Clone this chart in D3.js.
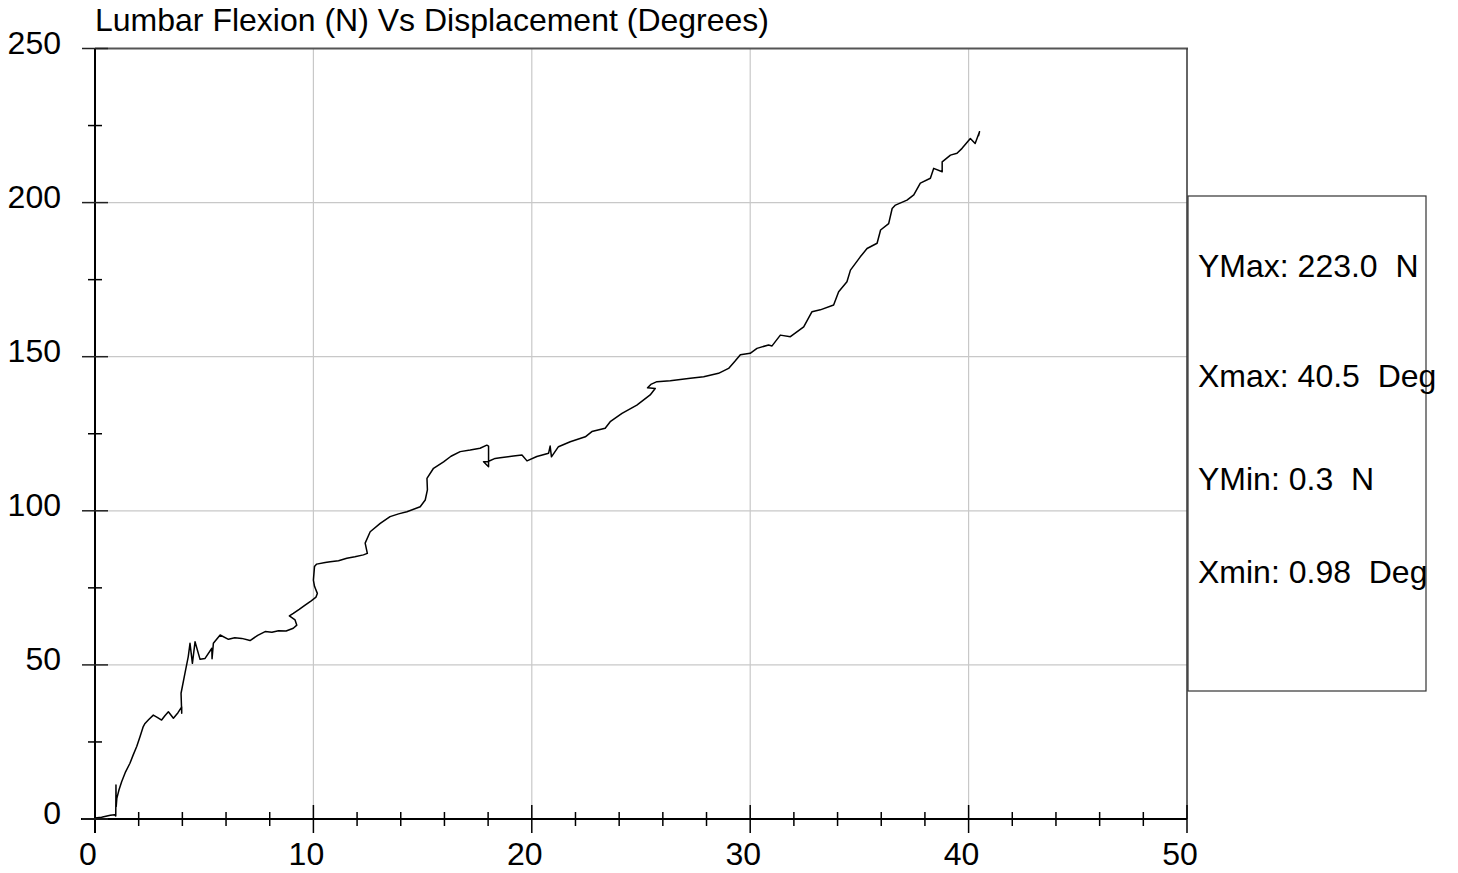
<!DOCTYPE html>
<html>
<head>
<meta charset="utf-8">
<script src="https://cdn.jsdelivr.net/npm/d3@7"></script>
<style>
  html, body { margin: 0; padding: 0; background: #fff; }
  svg { display: block; font-family: "Liberation Sans", Arial, sans-serif; }
</style>
</head>
<body>
<svg id="chart" width="1458" height="873"></svg>
<script>
// Lumbar flexion force (N) against angular displacement (degrees)
const displacement = [
  0.00, 0.30, 0.50, 0.70, 0.90, 0.95, 0.96, 0.97, 1.00, 1.10, 1.22, 1.40, 1.60, 1.75, 1.91,
  2.06, 2.21, 2.29, 2.45, 2.67, 2.85, 3.05, 3.20, 3.36, 3.59, 3.80, 3.97, 3.97, 3.94, 4.12,
  4.27, 4.35, 4.46, 4.58, 4.81, 5.04, 5.35, 5.36, 5.42, 5.73, 6.11, 6.40, 6.72, 7.10, 7.45,
  7.79, 8.10, 8.40, 8.75, 9.08, 9.24, 9.16, 8.90, 9.08, 9.35, 9.62, 9.90, 10.12, 10.18, 10.05,
  10.00, 10.05, 10.15, 10.54, 10.77, 11.15, 11.53, 11.90, 12.29, 12.47, 12.37, 12.60, 13.06, 13.51, 13.90,
  14.28, 14.89, 15.12, 15.22, 15.20, 15.50, 15.96, 16.30, 16.72, 17.18, 17.63, 17.94, 18.02, 18.02, 17.79,
  18.00, 18.32, 18.55, 19.16, 19.55, 19.78, 20.23, 20.77, 20.84, 20.90, 21.22, 21.76, 22.45, 22.75, 23.36,
  23.59, 24.13, 24.81, 25.42, 25.65, 25.30, 25.45, 25.73, 26.34, 27.26, 27.87, 28.55, 29.01, 29.30, 29.55,
  30.00, 30.31, 30.84, 31.00, 31.38, 31.84, 32.45, 32.83, 33.21, 33.82, 34.05, 34.43, 34.59, 35.04, 35.35,
  35.81, 35.97, 36.34, 36.50, 36.65, 37.18, 37.49, 37.79, 38.25, 38.40, 38.79, 38.79, 39.17, 39.47, 39.70,
  40.08, 40.30, 40.50, 40.45
];
const force = [
  0.3, 0.6, 0.9, 1.2, 1.4, 1.0, 11.0, 4.0, 6.7, 9.5, 12.1, 15.3, 18.1, 20.8, 23.5,
  26.7, 30.0, 31.0, 32.2, 33.7, 33.0, 32.1, 33.5, 34.8, 32.7, 34.5, 36.4, 34.3, 40.8, 47.3,
  52.7, 57.0, 50.5, 57.5, 51.8, 52.1, 55.4, 52.0, 57.0, 59.7, 58.3, 58.8, 58.6, 57.9, 59.6,
  60.8, 60.6, 61.1, 61.0, 61.9, 62.9, 64.6, 65.9, 66.7, 68.0, 69.4, 70.8, 72.0, 73.2, 75.5,
  77.5, 81.9, 82.7, 83.2, 83.5, 83.8, 84.6, 85.1, 85.7, 86.2, 89.5, 93.2, 95.9, 98.1, 99.0,
  99.7, 101.3, 103.5, 106.8, 110.5, 113.8, 115.9, 117.7, 119.2, 119.7, 120.3, 121.3, 121.0, 114.3, 115.9,
  116.0, 117.0, 117.2, 117.8, 118.1, 116.2, 117.6, 118.7, 121.0, 117.5, 120.8, 122.4, 124.0, 125.7, 126.8,
  128.9, 131.6, 134.3, 137.6, 139.7, 139.9, 141.0, 141.9, 142.2, 143.0, 143.5, 144.6, 146.2, 148.5, 150.6,
  151.1, 152.7, 153.8, 153.5, 157.0, 156.5, 159.7, 164.6, 165.2, 166.8, 171.1, 174.3, 178.1, 182.4, 185.1,
  186.8, 191.1, 193.2, 198.1, 199.2, 200.8, 202.5, 206.3, 207.9, 211.1, 210.0, 213.2, 215.4, 216.0, 217.6,
  220.8, 219.2, 223.0, 221.6
];

const xTickValues = [0, 10, 20, 30, 40, 50];
const xMinorValues = [2, 4, 6, 8, 12, 14, 16, 18, 22, 24, 26, 28, 32, 34, 36, 38, 42, 44, 46, 48];
const yTickValues = [0, 50, 100, 150, 200, 250];
const yMinorValues = [25, 75, 125, 175, 225];

const titleText = "Lumbar Flexion (N) Vs Displacement (Degrees)";
const statLabels = ["YMax: 223.0  N", "Xmax: 40.5  Deg", "YMin: 0.3  N", "Xmin: 0.98  Deg"];

const svg = d3.select("#chart");
const x = d3.scaleLinear().domain([0, 50]).range([95, 1187]);
const y = d3.scaleLinear().domain([0, 250]).range([819, 48.5]);

// grid
const grid = svg.append("g");
grid.selectAll(".vg").data(xTickValues.filter(v => v > 0 && v < 50)).join("line")
  .attr("x1", d => x(d)).attr("x2", d => x(d))
  .attr("y1", y(250)).attr("y2", y(0))
  .attr("stroke", "#c8c8c8").attr("stroke-width", 1.2);
grid.selectAll(".hg").data(yTickValues.filter(v => v > 0 && v < 250)).join("line")
  .attr("x1", x(0)).attr("x2", x(50))
  .attr("y1", d => y(d)).attr("y2", d => y(d))
  .attr("stroke", "#c8c8c8").attr("stroke-width", 1.2);

// frame: top and right
svg.append("line").attr("x1", x(0)).attr("x2", x(50) + 1).attr("y1", y(250)).attr("y2", y(250))
  .attr("stroke", "#555").attr("stroke-width", 2);
svg.append("line").attr("x1", x(50)).attr("x2", x(50)).attr("y1", y(250)).attr("y2", y(0))
  .attr("stroke", "#333").attr("stroke-width", 1.5);

// curve
const pts = displacement.map((d, i) => [d, force[i]]);
svg.append("path").datum(pts)
  .attr("d", d3.line().x(d => x(d[0])).y(d => y(d[1])))
  .attr("fill", "none").attr("stroke", "#000").attr("stroke-width", 1.5)
  .attr("stroke-linejoin", "round");

// x axis
const xAxisG = svg.append("g");
xAxisG.append("line").attr("x1", 81).attr("x2", x(50)).attr("y1", y(0)).attr("y2", y(0))
  .attr("stroke", "#000").attr("stroke-width", 2);
xAxisG.selectAll(".xmaj").data(xTickValues).join("line")
  .attr("x1", d => x(d)).attr("x2", d => x(d)).attr("y1", y(0) - 14).attr("y2", y(0) + 14)
  .attr("stroke", "#000").attr("stroke-width", 1.5);
xAxisG.selectAll(".xmin").data(xMinorValues).join("line")
  .attr("x1", d => x(d)).attr("x2", d => x(d)).attr("y1", y(0) - 7).attr("y2", y(0) + 7)
  .attr("stroke", "#000").attr("stroke-width", 1.5);
xAxisG.selectAll(".xlab").data(xTickValues).join("text")
  .attr("x", d => x(d) - 7).attr("y", 865)
  .attr("text-anchor", "middle").attr("font-size", 32).attr("fill", "#000")
  .text(d => d);

// y axis
const yAxisG = svg.append("g");
yAxisG.append("line").attr("x1", x(0)).attr("x2", x(0)).attr("y1", y(250)).attr("y2", y(0) + 14)
  .attr("stroke", "#000").attr("stroke-width", 2);
yAxisG.selectAll(".ymaj").data(yTickValues).join("line")
  .attr("x1", 82).attr("x2", 108).attr("y1", d => y(d)).attr("y2", d => y(d))
  .attr("stroke", "#222").attr("stroke-width", 1.5);
yAxisG.selectAll(".ymin").data(yMinorValues).join("line")
  .attr("x1", 88).attr("x2", 102).attr("y1", d => y(d)).attr("y2", d => y(d))
  .attr("stroke", "#000").attr("stroke-width", 1.5);
yAxisG.selectAll(".ylab").data(yTickValues).join("text")
  .attr("x", 61).attr("y", d => y(d) + 5)
  .attr("text-anchor", "end").attr("font-size", 32).attr("fill", "#000")
  .text(d => d);

// title
svg.append("text").attr("x", 95).attr("y", 31)
  .attr("font-size", 32).attr("fill", "#000").text(titleText);

// statistics box
svg.append("rect").attr("x", 1188).attr("y", 196).attr("width", 238).attr("height", 495)
  .attr("fill", "none").attr("stroke", "#333").attr("stroke-width", 1.2);
const statY = [277, 387, 490, 583];
svg.selectAll(".stat").data(statLabels).join("text")
  .attr("x", 1198).attr("y", (d, i) => statY[i])
  .attr("font-size", 32).attr("fill", "#000")
  .attr("xml:space", "preserve").style("white-space", "pre")
  .text(d => d);
</script>
</body>
</html>
